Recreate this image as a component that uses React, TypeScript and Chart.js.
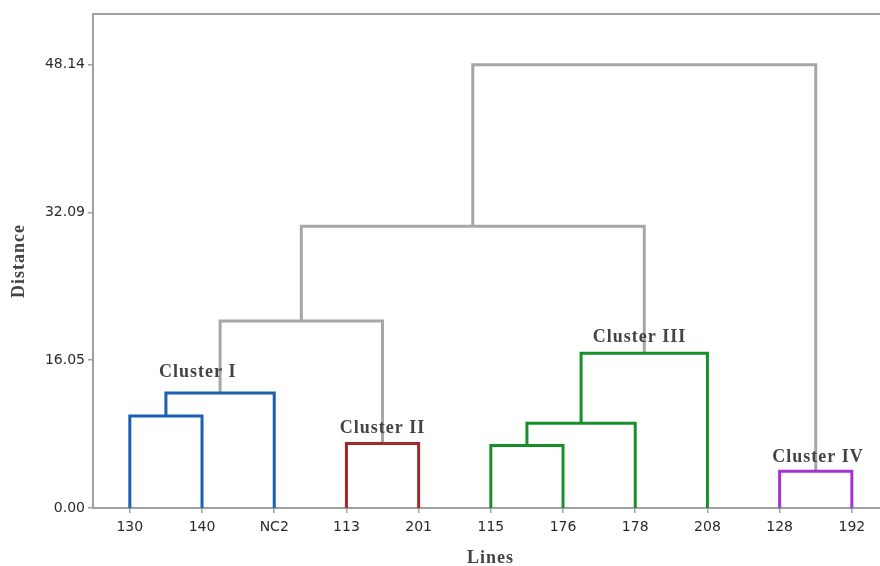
import React, { useEffect, useRef } from "react";
import { Chart, registerables } from "chart.js";

Chart.register(...registerables);

// Leaves (x-axis categories)
const leafLabels = ["130", "140", "NC2", "113", "201", "115", "176", "178", "208", "128", "192"];

// Merges: node ids 0..10 are leaves, merge k creates node 11+k
const mergeLeft = [0, 11, 3, 12, 5, 15, 16, 14, 9, 18];
const mergeRight = [1, 2, 4, 13, 6, 7, 8, 17, 10, 19];
const mergeHeight = [10.0, 12.5, 7.0, 20.3, 6.8, 9.2, 16.8, 30.6, 4.0, 48.14];
const mergeGroup = ["I", "I", "II", "", "III", "III", "III", "", "IV", ""];

// Y tick values
const yTicks = [0, 16.05, 32.09, 48.14];

// Cluster annotations (x in leaf-index units, y in distance units: text baseline)
const clusterNames = ["Cluster I", "Cluster II", "Cluster III", "Cluster IV"];
const clusterLabelX = [0.94, 3.5, 7.06, 9.53];
const clusterLabelY = [14.2, 8.1, 18.0, 5.0];

const groupColor: Record<string, string> = {
  I: "#1c5fb2",
  II: "#a3282a",
  III: "#17902c",
  IV: "#a334d4",
  "": "#a6a6a6",
};

function buildLinks() {
  const nodeX: number[] = leafLabels.map((_, i) => i);
  const nodeH: number[] = leafLabels.map(() => 0);
  const links: { pts: { x: number; y: number }[]; color: string }[] = [];
  mergeLeft.forEach((l, k) => {
    const r = mergeRight[k];
    const h = mergeHeight[k];
    const xl = nodeX[l];
    const xr = nodeX[r];
    links.push({
      pts: [
        { x: xl, y: nodeH[l] },
        { x: xl, y: h },
        { x: xr, y: h },
        { x: xr, y: nodeH[r] },
      ],
      color: groupColor[mergeGroup[k]],
    });
    nodeX.push((xl + xr) / 2);
    nodeH.push(h);
  });
  return links;
}

export default function App() {
  const ref = useRef<HTMLCanvasElement | null>(null);

  useEffect(() => {
    document.body.style.margin = "0";
    const canvas = ref.current;
    if (!canvas) return;
    const links = buildLinks();

    const annotate = {
      id: "annotate",
      afterDraw(chart: any) {
        const { ctx, chartArea, scales } = chart;
        ctx.save();
        // top frame line
        ctx.strokeStyle = "#a0a0a0";
        ctx.lineWidth = 2;
        ctx.beginPath();
        ctx.moveTo(chartArea.left, chartArea.top);
        ctx.lineTo(chartArea.right, chartArea.top);
        ctx.stroke();

        ctx.fillStyle = "#444444";
        ctx.font = "bold 18px 'Liberation Serif', serif";
        (ctx as any).letterSpacing = "1px";
        ctx.textAlign = "center";
        ctx.textBaseline = "alphabetic";
        clusterNames.forEach((name, i) => {
          const px = scales.x.getPixelForValue(clusterLabelX[i]);
          const py = scales.y.getPixelForValue(clusterLabelY[i]);
          ctx.fillText(name, px, py);
        });

        // axis titles
        ctx.font = "bold 18px 'Liberation Serif', serif";
        ctx.textBaseline = "middle";
        ctx.fillText("Lines", (chartArea.left + chartArea.right) / 2 + 4, 558);
        ctx.translate(19, (chartArea.top + chartArea.bottom) / 2);
        ctx.rotate(-Math.PI / 2);
        ctx.fillText("Distance", 0, 0);
        ctx.restore();
      },
    };

    const tickFont = { family: "'DejaVu Sans', sans-serif", size: 14 };

    const chart = new Chart(canvas, {
      type: "scatter",
      data: {
        datasets: links.map((lk) => ({
          data: lk.pts,
          showLine: true,
          borderColor: lk.color,
          backgroundColor: lk.color,
          borderWidth: 3,
          borderJoinStyle: "miter" as const,
          pointRadius: 0,
          pointHoverRadius: 0,
          tension: 0,
        })),
      },
      options: {
        animation: false,
        responsive: false,
        events: [],
        layout: { padding: { top: 14, left: 0, right: 0, bottom: 0 } },
        plugins: {
          legend: { display: false },
          tooltip: { enabled: false },
        },
        scales: {
          x: {
            type: "linear",
            min: -0.51,
            max: 10.39,
            afterFit(scale: any) {
              scale.height = 58;
            },
            afterBuildTicks(scale: any) {
              scale.ticks = leafLabels.map((_, i) => ({ value: i }));
            },
            ticks: {
              autoSkip: false,
              maxRotation: 0,
              padding: 6,
              color: "#2a2a2a",
              font: tickFont,
              callback: (v: any) => leafLabels[Math.round(Number(v))] ?? "",
            },
            grid: { drawOnChartArea: false, tickLength: 5, color: "#a0a0a0", lineWidth: 1.5 },
            border: { color: "#a0a0a0", width: 2 },
          },
          y: {
            type: "linear",
            min: 0,
            max: 53.64,
            afterFit(scale: any) {
              scale.width = 93;
            },
            afterBuildTicks(scale: any) {
              scale.ticks = yTicks.map((v) => ({ value: v }));
            },
            ticks: {
              padding: 3,
              color: "#2a2a2a",
              font: tickFont,
              callback: (v: any) => Number(v).toFixed(2),
            },
            grid: { drawOnChartArea: false, tickLength: 5, color: "#a0a0a0", lineWidth: 1.5 },
            border: { color: "#a0a0a0", width: 2 },
          },
        },
      },
      plugins: [annotate],
    });

    return () => chart.destroy();
  }, []);

  return (
    <div style={{ width: 880, height: 566 }}>
      <canvas ref={ref} width={880} height={566} />
    </div>
  );
}
